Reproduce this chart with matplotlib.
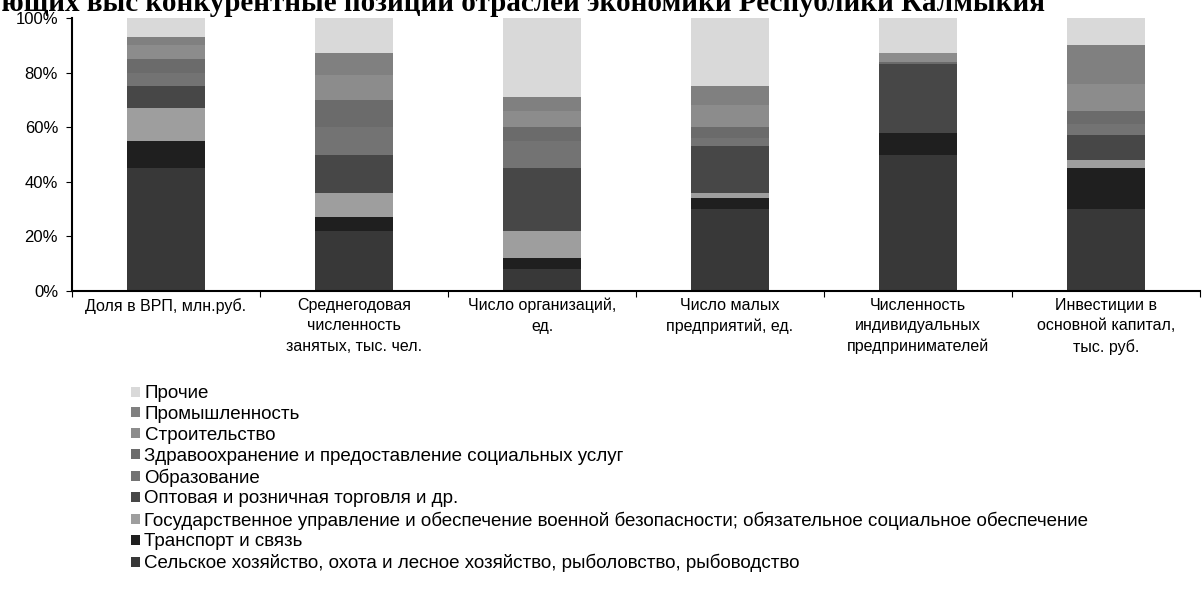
import numpy as np
import matplotlib.pyplot as plt
from matplotlib.patches import Patch

plt.rcParams['font.family'] = ['Liberation Sans', 'DejaVu Sans']

categories = ['Доля в ВРП, млн.руб.',
              'Среднегодовая\nчисленность\nзанятых, тыс. чел.',
              'Число организаций,\nед.',
              'Число малых\nпредприятий, ед.',
              'Численность\nиндивидуальных\nпредпринимателей',
              'Инвестиции в\nосновной капитал,\nтыс. руб.']

# series from bottom of the stack to the top, shares in %
series = ['Сельское хозяйство, охота и лесное хозяйство, рыболовство, рыбоводство',
          'Транспорт и связь',
          'Государственное управление и обеспечение военной безопасности; обязательное социальное обеспечение',
          'Оптовая и розничная торговля и др.',
          'Образование',
          'Здравоохранение и предоставление социальных услуг',
          'Строительство',
          'Промышленность',
          'Прочие']

agro      = [45, 22, 8, 30, 50, 30]
transport = [10, 5, 4, 4, 8, 15]
gov       = [12, 9, 10, 2, 0, 3]
trade     = [8, 14, 23, 17, 25, 9]
educ      = [5, 10, 10, 3, 0, 4]
health    = [5, 10, 5, 4, 1, 5]
constr    = [5, 9, 6, 8, 3, 10]
industry  = [3, 8, 5, 7, 0, 14]
other     = [7, 13, 29, 25, 13, 10]

values = [agro, transport, gov, trade, educ, health, constr, industry, other]
shades = ['0.22', '0.12', '0.62', '0.28', '0.45', '0.42', '0.55', '0.5', '0.85']

fig = plt.figure(figsize=(12.02, 5.92), dpi=100)
ax = fig.add_axes([72/1202, 1 - 291/592, 1128/1202, 273/592])

x = np.arange(len(categories))
bottom = np.zeros(len(categories))
for vals, col in zip(values, shades):
    ax.bar(x, vals, width=0.41, bottom=bottom, color=col, edgecolor='none')
    bottom += np.array(vals)

ax.set_xlim(-0.5, 5.5)
ax.set_ylim(0, 100)
ax.set_yticks(range(0, 101, 20))
ax.set_yticklabels([f'{v}%' for v in range(0, 101, 20)], fontsize=12)
ax.set_xticks(np.arange(-0.5, 6, 1))
ax.set_xticklabels([])
ax.set_xticks(x, minor=True)
ax.set_xticklabels(categories, minor=True, fontsize=11.5, linespacing=1.45)
ax.tick_params(axis='x', which='minor', length=0, pad=5)
ax.tick_params(axis='x', which='major', length=4, direction='out')
ax.tick_params(axis='y', length=4, direction='out', pad=6)
for s in ['top', 'right']:
    ax.spines[s].set_visible(False)
for s in ['left', 'bottom']:
    ax.spines[s].set_linewidth(1.5)

fig.text(1045/1202, 1 - 11/592, 'ующих выс конкурентные позиции отраслей экономики Республики Калмыкия',
         ha='right', va='baseline', fontsize=21, fontweight='bold', family='Liberation Serif')

handles = [Patch(facecolor=c, edgecolor='none') for c in shades][::-1]
fig.legend(handles, series[::-1], loc='upper left', bbox_to_anchor=(122/1202, 1 - 376/592),
           frameon=False, fontsize=13.5, handlelength=0.45, handleheight=0.45,
           handletextpad=0.25, labelspacing=0.2, borderpad=0)

fig.savefig('out.png', dpi=100)
